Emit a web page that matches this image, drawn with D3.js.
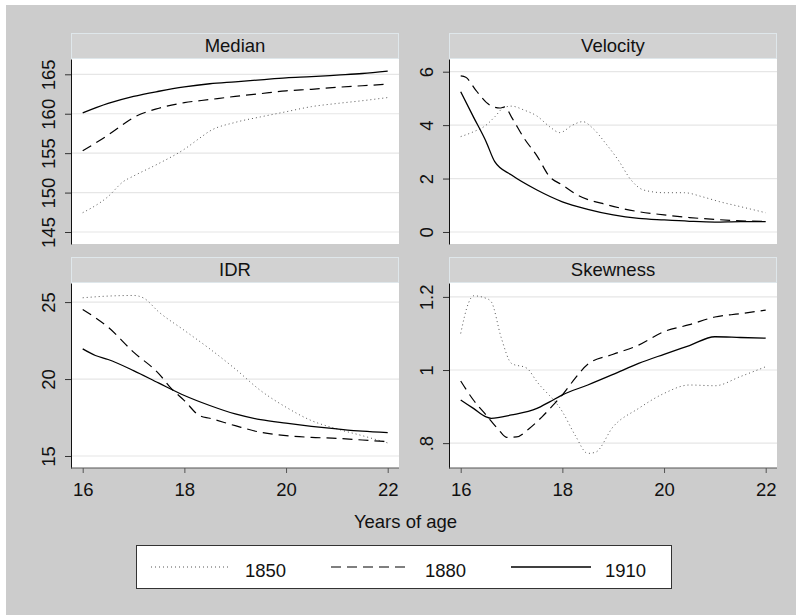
<!DOCTYPE html>
<html lang="en">
<head>
  <meta charset="utf-8" />
  <script src="https://d3js.org/d3.v7.min.js"></script>
  <style>
    body { margin: 0; background: #fff; }
    text { font-family: "Liberation Sans", Arial, Helvetica, sans-serif; fill: #111; }
  </style>
</head>
<body>
<script>
  // ages on the x axis and the ticks for each panel
  var ageTicks = [16, 18, 20, 22];
  var medianTicks = [145, 150, 155, 160, 165];
  var velocityTicks = [0, 2, 4, 6];
  var idrTicks = [15, 20, 25];
  var skewTicks = [0.8, 1, 1.2];

  var cohorts = ["1850", "1880", "1910"];

  // [age, value]
  var median1850 = [[16,147.45],[16.5,149.5],[16.8,151.4],[17,152.1],[17.5,153.7],[18,155.5],[18.3,156.9],[18.5,157.8],[19,158.9],[19.5,159.6],[20,160.25],[20.5,160.9],[21,161.3],[21.5,161.65],[22,162.05]];
  var median1880 = [[16,155.3],[16.5,157.3],[16.9,159.1],[17,159.5],[17.5,160.7],[18,161.4],[18.5,161.8],[19,162.2],[19.5,162.55],[20,162.9],[20.5,163.1],[21,163.35],[21.5,163.55],[22,163.75]];
  var median1910 = [[16,160.1],[16.5,161.3],[17,162.2],[17.5,162.85],[18,163.4],[18.5,163.8],[19,164.05],[19.5,164.3],[20,164.55],[20.5,164.7],[21,164.9],[21.5,165.1],[22,165.4]];

  var velocity1850 = [[16,3.57],[16.25,3.75],[16.5,4.0],[16.67,4.31],[16.85,4.66],[17,4.71],[17.25,4.56],[17.5,4.34],[17.75,3.94],[17.95,3.72],[18.2,4.0],[18.4,4.13],[18.6,3.88],[18.85,3.32],[19.1,2.69],[19.35,1.95],[19.6,1.57],[20,1.47],[20.4,1.47],[20.75,1.32],[21.1,1.13],[21.5,0.95],[22,0.72]];
  var velocity1880 = [[16,5.84],[16.1,5.79],[16.3,5.3],[16.57,4.75],[16.77,4.64],[16.87,4.68],[17,4.3],[17.25,3.5],[17.5,2.85],[17.75,2.07],[18,1.76],[18.3,1.38],[18.9,1.01],[19.5,0.76],[20,0.64],[20.5,0.54],[21,0.47],[21.5,0.42],[22,0.39]];
  var velocity1910 = [[16,5.25],[16.25,4.31],[16.5,3.38],[16.67,2.63],[17,2.13],[17.5,1.57],[18,1.13],[18.5,0.85],[19,0.64],[19.5,0.51],[20,0.45],[20.5,0.4],[21,0.37],[21.5,0.39],[22,0.39]];

  var idr1850 = [[16,25.28],[16.5,25.39],[17,25.43],[17.2,25.26],[17.5,24.35],[18,23.16],[18.5,21.96],[19,20.66],[19.5,19.25],[20,18.17],[20.5,17.3],[21,16.76],[21.5,16.32],[22,15.85]];
  var idr1880 = [[16,24.52],[16.5,23.37],[17,21.75],[17.5,20.34],[17.75,19.36],[18,18.6],[18.3,17.62],[18.5,17.45],[19,16.97],[19.5,16.54],[20,16.32],[20.5,16.21],[21,16.15],[21.5,16.04],[22,15.93]];
  var idr1910 = [[16,21.96],[16.25,21.53],[16.5,21.27],[17,20.55],[17.5,19.73],[18,18.93],[18.5,18.28],[19,17.73],[19.5,17.36],[20,17.13],[20.5,16.93],[21,16.76],[21.5,16.61],[22,16.52]];

  var skew1850 = [[16,1.10],[16.15,1.182],[16.25,1.203],[16.5,1.196],[16.6,1.187],[16.8,1.087],[17,1.018],[17.3,1.005],[17.5,0.968],[18,0.886],[18.25,0.822],[18.5,0.772],[18.65,0.775],[19,0.845],[19.5,0.895],[20,0.936],[20.5,0.959],[21,0.957],[21.5,0.982],[22,1.009]];
  var skew1880 = [[16,0.97],[16.25,0.918],[16.5,0.877],[16.75,0.836],[16.9,0.816],[17.1,0.817],[17.35,0.84],[17.6,0.872],[17.85,0.909],[18,0.932],[18.25,0.977],[18.5,1.016],[19,1.043],[19.5,1.068],[20,1.105],[20.5,1.124],[21,1.145],[21.5,1.154],[22,1.164]];
  var skew1910 = [[16,0.918],[16.25,0.895],[16.5,0.872],[16.6,0.868],[17,0.877],[17.5,0.895],[17.75,0.913],[18,0.932],[18.5,0.959],[19,0.988],[19.5,1.018],[20,1.043],[20.5,1.067],[21,1.091],[21.5,1.089],[22,1.087]];

  // stata style: no leading zero
  var stataFmt = function (d) { return String(d).replace(/^0\./, "."); };

  var panels = [
    { title: "Median",   col: 0, row: 0, ticks: medianTicks,   yDom: [143.48, 166.94], series: [median1850, median1880, median1910] },
    { title: "Velocity", col: 1, row: 0, ticks: velocityTicks, yDom: [-0.45, 6.475],   series: [velocity1850, velocity1880, velocity1910] },
    { title: "IDR",      col: 0, row: 1, ticks: idrTicks,      yDom: [14.22, 26.24],   series: [idr1850, idr1880, idr1910] },
    { title: "Skewness", col: 1, row: 1, ticks: skewTicks,     yDom: [0.732, 1.238],   series: [skew1850, skew1880, skew1910] }
  ];

  var styles = [
    { stroke: "#555", width: 1, dash: "1,3" },
    { stroke: "#000", width: 1.2, dash: "10,6" },
    { stroke: "#000", width: 1.3, dash: null }
  ];

  var colX = [71, 449], plotW = 328;
  var rowY = [33, 257], headH = 26, plotH = 185;

  var svg = d3.select("body").append("svg")
    .attr("width", 796).attr("height", 615);

  svg.append("rect").attr("x", 6).attr("y", 5).attr("width", 790).attr("height", 610).attr("fill", "#cccccc");

  panels.forEach(function (p) {
    var left = colX[p.col], top = rowY[p.row];
    var pTop = top + headH, pBot = pTop + plotH;

    var x = d3.scaleLinear().domain([16, 22]).range([left + 11.7, left + plotW - 11.3]);
    var y = d3.scaleLinear().domain(p.yDom).range([pBot, pTop]);

    // title strip
    svg.append("rect")
      .attr("x", left + 0.5).attr("y", top + 0.5)
      .attr("width", plotW - 1).attr("height", headH - 1)
      .attr("fill", "#d2d2d2").attr("stroke", "#dfe7eb");
    svg.append("text")
      .attr("x", left + plotW / 2).attr("y", top + 19)
      .attr("text-anchor", "middle").attr("font-size", "18.5px")
      .text(p.title);

    // plot area
    svg.append("rect")
      .attr("x", left).attr("y", pTop).attr("width", plotW).attr("height", plotH)
      .attr("fill", "#fff");

    svg.append("g").selectAll("line").data(p.ticks).join("line")
      .attr("x1", left).attr("x2", left + plotW)
      .attr("y1", function (d) { return y(d); })
      .attr("y2", function (d) { return y(d); })
      .attr("stroke", "#e6e6e6").attr("stroke-width", 1.2);

    var line = d3.line()
      .x(function (d) { return x(d[0]); })
      .y(function (d) { return y(d[1]); })
      .curve(d3.curveMonotoneX);

    p.series.forEach(function (s, i) {
      svg.append("path")
        .datum(s)
        .attr("d", line)
        .attr("fill", "none")
        .attr("stroke", styles[i].stroke)
        .attr("stroke-width", styles[i].width)
        .attr("stroke-dasharray", styles[i].dash);
    });

    // y axis
    var yAxis = svg.append("g")
      .attr("transform", "translate(" + left + ",0)")
      .call(d3.axisLeft(y).tickValues(p.ticks).tickSize(6).tickSizeOuter(0).tickFormat(stataFmt));
    yAxis.select(".domain").attr("stroke", "#111");
    yAxis.selectAll(".tick line").attr("stroke", "#333");
    yAxis.selectAll(".tick text")
      .attr("x", null).attr("dy", null)
      .attr("text-anchor", "middle")
      .attr("transform", "translate(-16,0) rotate(-90)")
      .attr("font-size", "18.5px")
      .attr("font-family", "Liberation Sans, Arial, sans-serif")
      .attr("fill", "#111");

    // x axis only on bottom row
    if (p.row === 1) {
      var xAxis = svg.append("g")
        .attr("transform", "translate(0," + pBot + ")")
        .call(d3.axisBottom(x).tickValues(ageTicks).tickSize(5).tickSizeOuter(0).tickFormat(d3.format("d")));
      xAxis.select(".domain").attr("stroke", "#555").attr("d", "M" + left + ",0H" + (left + plotW));
      xAxis.selectAll(".tick line").attr("stroke", "#555");
      xAxis.selectAll(".tick text")
        .attr("y", 27.5).attr("dy", null)
        .attr("font-size", "18.5px")
        .attr("font-family", "Liberation Sans, Arial, sans-serif")
        .attr("fill", "#111");
    }
  });

  svg.append("text")
    .attr("x", 405.5).attr("y", 527.5)
    .attr("text-anchor", "middle").attr("font-size", "18.5px")
    .text("Years of age");

  // legend
  var lg = svg.append("g");
  lg.append("rect")
    .attr("x", 136.5).attr("y", 545.5).attr("width", 535).attr("height", 43)
    .attr("fill", "#fff").attr("stroke", "#333");
  var legX = [151, 331, 511];
  cohorts.forEach(function (c, i) {
    lg.append("line")
      .attr("x1", legX[i]).attr("x2", legX[i] + 80)
      .attr("y1", 567).attr("y2", 567)
      .attr("stroke", styles[i].stroke)
      .attr("stroke-width", styles[i].width)
      .attr("stroke-dasharray", styles[i].dash);
    lg.append("text")
      .attr("x", legX[i] + 94).attr("y", 576.5)
      .attr("font-size", "18.5px")
      .text(c);
  });
</script>
</body>
</html>
